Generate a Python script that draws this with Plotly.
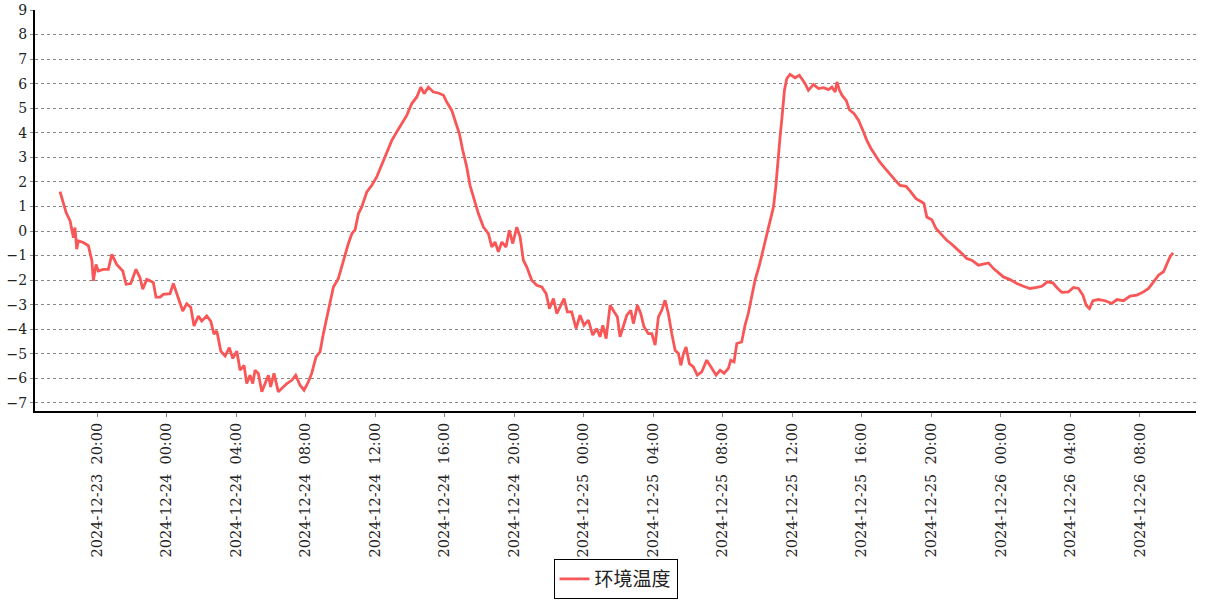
import pandas as pd
import plotly.graph_objects as go

# ---- data ----
series_name = "环境温度"
base_time = "2024-12-23 20:00"
# hours relative to base_time
hours = [
    -2.13, -1.94, -1.78, -1.55, -1.36, -1.27, -1.17, -1.08, -0.79, -0.50, -0.30, -0.21, -0.06,
    0.07, 0.36, 0.65, 0.85, 1.13, 1.48, 1.67, 1.94, 2.24, 2.47, 2.63, 2.86, 3.05, 3.24, 3.39,
    3.63, 3.81, 4.20, 4.39, 4.62, 4.93, 5.16, 5.39, 5.58, 5.83, 6.02, 6.31, 6.54, 6.73, 6.89,
    7.12, 7.37, 7.61, 7.81, 8.04, 8.23, 8.46, 8.61, 8.80, 8.96, 9.09, 9.28, 9.48, 9.67, 9.86,
    9.99, 10.18, 10.43, 10.69, 10.92, 11.20, 11.43, 11.68, 11.91, 12.16, 12.35, 12.60, 12.83,
    13.02, 13.22, 13.41, 13.60, 13.88, 14.17, 14.46, 14.66, 14.85, 15.04, 15.23, 15.52, 15.81,
    16.09, 16.38, 16.67, 16.96, 17.24, 17.53, 17.82, 18.11, 18.40, 18.63, 18.82, 19.06, 19.35,
    19.64, 19.93, 20.12, 20.41, 20.66, 20.85, 21.04, 21.27, 21.46, 21.69, 21.94, 22.23, 22.52,
    22.71, 22.90, 23.09, 23.29, 23.53, 23.72, 23.92, 24.15, 24.34, 24.53, 24.72, 25.01, 25.30,
    25.59, 25.84, 26.03, 26.26, 26.45, 26.64, 26.87, 27.06, 27.31, 27.56, 27.79, 28.02, 28.27,
    28.52, 28.75, 28.94, 29.10, 29.29, 29.52, 29.75, 29.94, 30.09, 30.32, 30.48, 30.71, 30.86,
    31.09, 31.28, 31.47, 31.72, 31.92, 32.11, 32.30, 32.49, 32.68, 32.87, 33.07, 33.26, 33.45,
    33.59, 33.74, 33.89, 34.08, 34.31, 34.54, 34.79, 35.08, 35.37, 35.62, 35.85, 36.08, 36.32,
    36.46, 36.65, 36.81, 37.09, 37.28, 37.47, 37.67, 37.86, 38.11, 38.34, 38.53, 38.73, 38.92,
    39.05, 39.17, 39.30, 39.43, 39.55, 39.68, 39.87, 40.16, 40.41, 40.55, 40.74, 40.93, 41.22,
    41.51, 41.80, 42.09, 42.28, 42.47, 42.57, 42.72, 42.86, 43.10, 43.29, 43.56, 43.81, 44.06,
    44.29, 44.52, 44.77, 45.02, 45.34, 45.63, 45.92, 46.20, 46.55, 46.82, 47.12, 47.45, 47.58,
    47.74, 48.03, 48.27, 48.60, 48.89, 49.18, 49.47, 49.76, 50.04, 50.33, 50.71, 51.00, 51.29,
    51.58, 51.86, 52.15, 52.53, 52.92, 53.30, 53.68, 54.07, 54.36, 54.68, 54.99, 55.22, 55.51,
    55.89, 56.18, 56.47, 56.72, 56.91, 57.10, 57.30, 57.62, 58.00, 58.39, 58.68, 59.06, 59.44,
    59.83, 60.21, 60.50, 60.79, 61.07, 61.36, 61.56, 61.75, 61.91,
]
temps = [
    1.6, 1.16, 0.75, 0.41, -0.27, 0.14, -0.74, -0.4, -0.47, -0.6, -1.2, -2.03, -1.36,
    -1.63, -1.56, -1.56, -0.95, -1.36, -1.63, -2.17, -2.14, -1.56, -1.9, -2.37, -1.97, -2.03, -2.1, -2.69,
    -2.69, -2.58, -2.55, -2.14, -2.58, -3.26, -2.96, -3.1, -3.87, -3.46, -3.67, -3.46, -3.67, -4.2, -4.07,
    -4.89, -5.09, -4.75, -5.19, -4.89, -5.67, -5.47, -6.21, -5.87, -6.21, -5.67, -5.8, -6.55, -6.21, -5.87,
    -6.35, -5.8, -6.55, -6.35, -6.21, -6.08, -5.87, -6.28, -6.48, -6.14, -5.8, -5.13, -4.92,
    -4.18, -3.5, -2.96, -2.28, -1.94, -1.19, -0.51, -0.11, 0.06, 0.71, 0.98, 1.59, 1.86,
    2.2, 2.68, 3.15, 3.69, 4.03, 4.37, 4.71, 5.19, 5.46, 5.86, 5.59, 5.86, 5.66,
    5.62, 5.53, 5.25, 4.91, 4.37, 3.96, 3.29, 2.61, 1.86, 1.32, 0.71, 0.16, -0.11,
    -0.65, -0.45, -0.85, -0.45, -0.65, 0.03, -0.51, 0.16, -0.24, -1.19, -1.46, -2.0, -2.21,
    -2.28, -2.55, -3.16, -2.75, -3.36, -3.09, -2.75, -3.29, -3.29, -3.97, -3.43, -3.84, -3.63,
    -4.24, -3.97, -4.31, -3.84, -4.38, -3.02, -3.29, -3.5, -4.31, -3.77, -3.43, -3.23, -3.77,
    -3.02, -3.36, -3.9, -4.18, -4.18, -4.65, -3.5, -3.23, -2.82, -3.36, -4.18, -4.86, -4.99,
    -5.47, -4.99, -4.72, -5.4, -5.53, -5.87, -5.74, -5.26, -5.6, -5.87, -5.67, -5.8, -5.6,
    -5.26, -5.33, -4.58, -4.52, -3.84, -3.36, -2.68, -2.0, -1.39, -0.72, -0.04, 0.44, 0.98,
    1.79, 2.88, 3.83, 4.78, 5.73, 6.2, 6.38, 6.24, 6.34, 6.2, 6.0, 5.73, 5.97,
    5.8, 5.84, 5.76, 5.86, 5.66, 6.07, 5.73, 5.53, 5.32, 4.94, 4.78, 4.51, 4.1,
    3.69, 3.37, 3.1, 2.82, 2.55, 2.29, 2.07, 1.86, 1.82, 1.59, 1.32, 1.18, 1.12,
    0.57, 0.46, 0.1, -0.17, -0.38, -0.54, -0.72, -0.92, -1.12, -1.19, -1.39, -1.35, -1.3,
    -1.53, -1.7, -1.87, -1.98, -2.14, -2.25, -2.34, -2.3, -2.25, -2.07, -2.11, -2.3, -2.5,
    -2.48, -2.3, -2.34, -2.61, -3.02, -3.16, -2.84, -2.79, -2.84, -2.95, -2.79, -2.84, -2.65,
    -2.61, -2.48, -2.34, -2.07, -1.8, -1.66, -1.32, -1.03, -0.89,
]
tick_times = [
    "2024-12-23 20:00", "2024-12-24 00:00", "2024-12-24 04:00", "2024-12-24 08:00",
    "2024-12-24 12:00", "2024-12-24 16:00", "2024-12-24 20:00", "2024-12-25 00:00",
    "2024-12-25 04:00", "2024-12-25 08:00", "2024-12-25 12:00", "2024-12-25 16:00",
    "2024-12-25 20:00", "2024-12-26 00:00", "2024-12-26 04:00", "2024-12-26 08:00",
]
y_ticks = list(range(-7, 10))

# ---- figure ----
times = pd.Timestamp(base_time) + pd.to_timedelta(hours, unit="h")
tick_text = [t.replace(" ", "\u00a0\u00a0") for t in tick_times]
x_start = pd.Timestamp(base_time) + pd.Timedelta(hours=-3.57)
x_end = pd.Timestamp(base_time) + pd.Timedelta(hours=63.23)

fig = go.Figure()
fig.add_trace(go.Scatter(
    x=times, y=temps, mode="lines", name=series_name,
    line=dict(color="#f85657", width=2.8),
))

fig.update_layout(
    width=1207, height=600,
    margin=dict(l=35, r=11, t=10, b=189, autoexpand=False),
    paper_bgcolor="white", plot_bgcolor="white",
    showlegend=True,
    legend=dict(
        orientation="h", x=0.5, xanchor="center", y=-0.469, yanchor="bottom",
        bordercolor="#000", borderwidth=1, bgcolor="white",
        font=dict(family="Noto Sans CJK SC", size=19, color="#222"),
        itemwidth=30,
    ),
    xaxis=dict(
        type="date", range=[x_start, x_end], automargin=False,
        tickvals=pd.to_datetime(tick_times), ticktext=tick_text,
        tickangle=-90, tickfont=dict(family="DejaVu Serif", size=14.5, color="#222"),
        ticks="outside", ticklen=4, tickcolor="#888",
        showline=True, linecolor="#000", linewidth=2,
        showgrid=False, zeroline=False,
    ),
    yaxis=dict(
        range=[-7.33, 9.0], tickvals=y_ticks, automargin=False,
        tickfont=dict(family="DejaVu Serif", size=14, color="#222"),
        ticks="outside", ticklen=3, tickcolor="#888",
        showline=True, linecolor="#000", linewidth=2,
        showgrid=True, gridcolor="#888", gridwidth=1, griddash="dot",
        zeroline=False,
    ),
)

fig.write_html(
    "out.html",
    config={"displayModeBar": False},
    post_script="document.body.style.margin='0';",
)
